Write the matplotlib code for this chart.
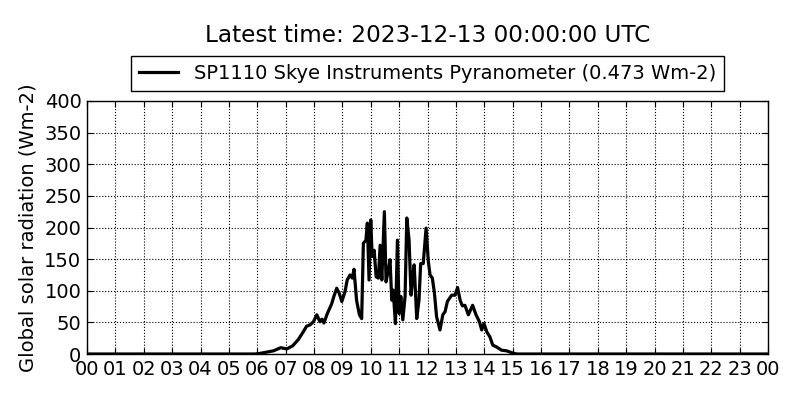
import numpy as np
import matplotlib.pyplot as plt

# ============================================================================
# DATA (hours since 00 UTC, global radiation Wm-2)
# ============================================================================

hours = [0.00, 5.92, 6.10, 6.57, 6.83, 7.04, 7.25, 7.45, 7.62, 7.74, 7.86,
         7.98, 8.10, 8.21, 8.28, 8.35, 8.47, 8.62, 8.70, 8.80, 8.89, 8.98,
         9.09, 9.17, 9.27, 9.35, 9.41, 9.50, 9.60, 9.68, 9.74, 9.83, 9.88,
         9.94, 10.00, 10.05, 10.12, 10.19, 10.27, 10.33, 10.39, 10.48, 10.54,
         10.62, 10.68, 10.74, 10.79, 10.87, 10.94, 11.00, 11.06, 11.13, 11.21,
         11.27, 11.35, 11.42, 11.48, 11.53, 11.62, 11.70, 11.76, 11.85, 11.95,
         12.03, 12.09, 12.17, 12.24, 12.32, 12.44, 12.54, 12.62, 12.70, 12.85,
         12.97, 13.06, 13.15, 13.23, 13.32, 13.44, 13.59, 13.71, 13.83, 13.91,
         13.99, 14.09, 14.20, 14.30, 14.44, 14.61, 14.79, 14.97, 15.14, 24.00]
radiation = [0, 0, 1, 5, 10, 8, 13, 23, 35, 44, 46,
             51, 62, 51, 55, 49, 64, 79, 91, 104, 96, 83,
             98, 117, 125, 120, 134, 85, 62, 56, 175, 180, 207,
             117, 212, 154, 164, 122, 120, 172, 117, 225, 114,
             133, 149, 85, 101, 48, 180, 64, 91, 54, 91,
             215, 180, 93, 122, 141, 56, 85, 143, 143, 199,
             146, 125, 120, 98, 59, 38, 62, 67, 83, 93,
             93, 105, 85, 76, 77, 62, 77, 62, 51, 38,
             48, 35, 27, 14, 11, 6, 5, 2, 0, 0]

tick_hours = list(range(25))
tick_labels = ['%02d' % (h % 24) for h in tick_hours]
y_ticks = list(range(0, 401, 50))

title = 'Latest time: 2023-12-13 00:00:00 UTC'
series_label = 'SP1110 Skye Instruments Pyranometer (0.473 Wm-2)'

# ============================================================================
# PLOT
# ============================================================================

fig = plt.figure(figsize=(8, 4), dpi=100, facecolor='white')
ax = fig.add_axes([0.10875, 0.115, 0.85125, 0.6325])

ax.plot(hours, radiation, color='black', linewidth=2.3, label=series_label)

ax.set_xlim(0, 24)
ax.set_ylim(0, 400)
ax.set_xticks(tick_hours)
ax.set_xticklabels(tick_labels)
ax.set_yticks(y_ticks)
ax.tick_params(direction='in', top=True, right=True, length=4,
               labelsize=14, pad=4)
ax.grid(True, color='black', linestyle=':', linewidth=0.8)
for s in ax.spines.values():
    s.set_linewidth(1)

ax.set_ylabel('Global solar radiation (Wm-2)', fontsize=14)
ax.yaxis.set_label_coords(-0.073, 0.5)

leg = ax.legend(loc='lower center', bbox_to_anchor=(0.5, 1.04),
                fontsize=14, fancybox=False, framealpha=1,
                edgecolor='black', borderaxespad=0, handlelength=2.0)
leg.get_frame().set_linewidth(1)

fig.text(0.5345, 0.91, title, ha='center', va='center', fontsize=16.7)

fig.savefig('out.png', dpi=100, facecolor='white')
